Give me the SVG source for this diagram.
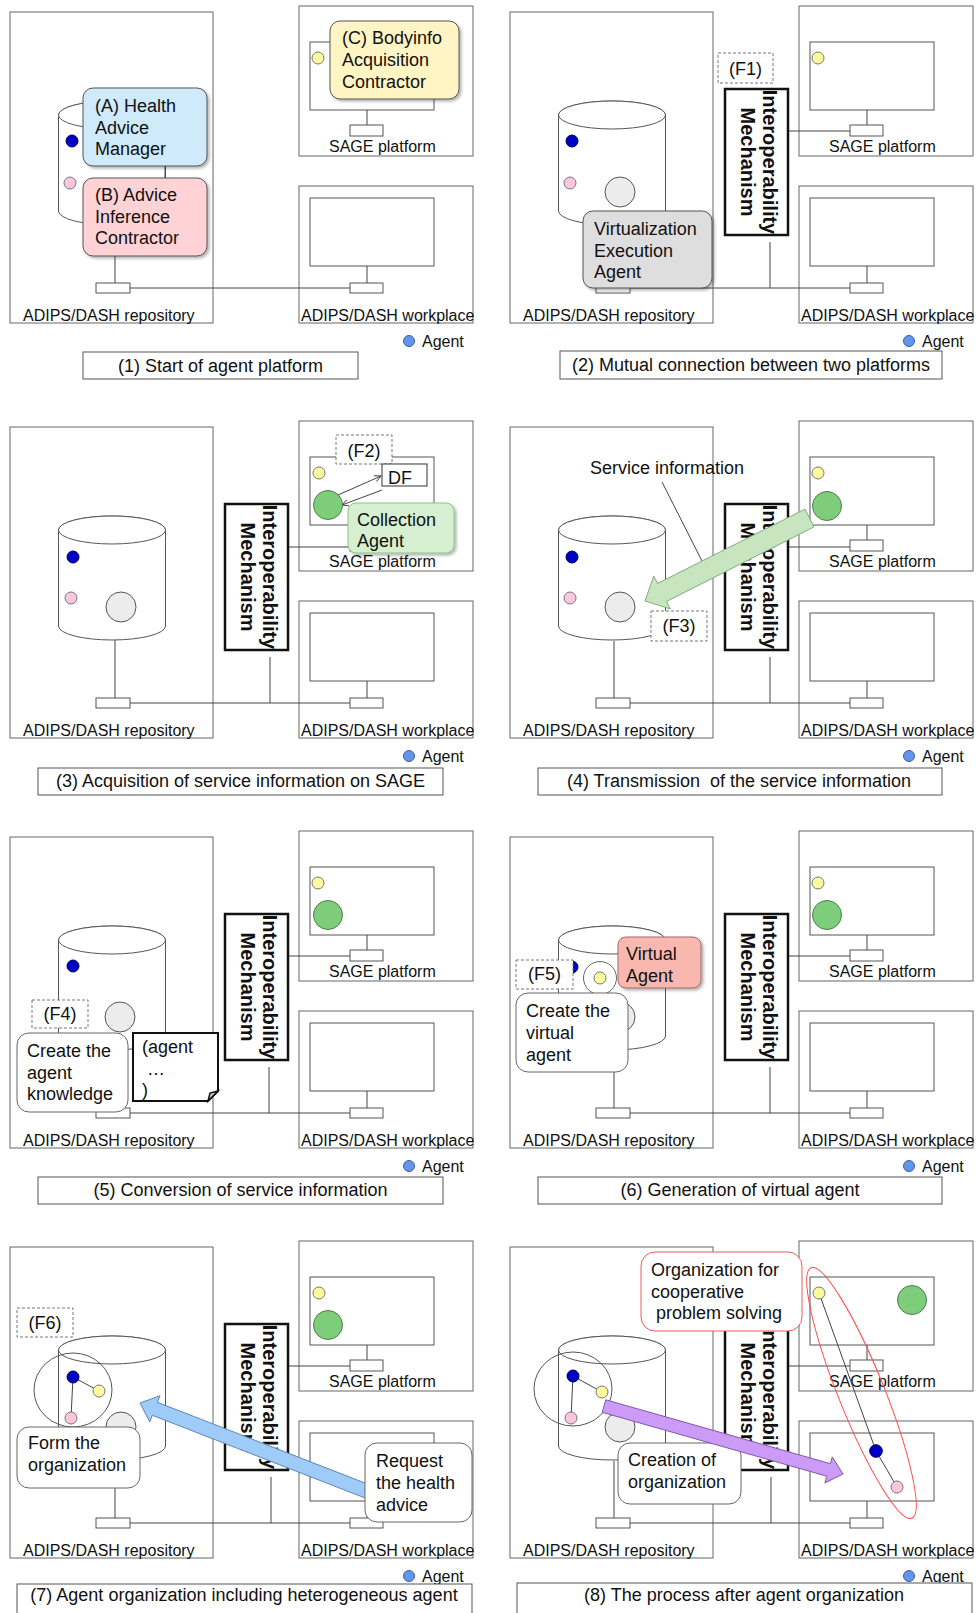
<svg xmlns="http://www.w3.org/2000/svg" xmlns:xlink="http://www.w3.org/1999/xlink" width="979" height="1613" viewBox="0 0 979 1613">
  <style>
    .frame{fill:#fff;stroke:#666;stroke-width:1}
    .mon{fill:#fff;stroke:#555;stroke-width:1}
    .ln{stroke:#444;stroke-width:1;fill:none}
    .lbl{font-family:'Liberation Sans',Arial,sans-serif;font-size:16px;fill:#111}
    .txt{font-family:'Liberation Sans',Arial,sans-serif;font-size:18px;fill:#111}
    .cap{font-family:'Liberation Sans',Arial,sans-serif;font-size:18px;fill:#111;text-anchor:middle;white-space:pre}
    .mid{text-anchor:middle}
    .capbox{fill:#fff;stroke:#555;stroke-width:1}
    .dash{fill:#fff;stroke:#777;stroke-width:1;stroke-dasharray:3 2}
    .ib{fill:#fff;stroke:#111;stroke-width:2.5}
    .it{font-family:'Liberation Sans',Arial,sans-serif;font-size:20px;font-weight:bold;fill:#111;text-anchor:middle}
    .note{fill:#fff;stroke:#666;stroke-width:1}
    .blue{fill:#0000c4;stroke:#00005a}
    .pink{fill:#fcc6dc;stroke:#777}
    .yellow{fill:#fdfa9e;stroke:#777}
    .gray{fill:#ececec;stroke:#555}
    .green{fill:#7dcd7b;stroke:#4d7d4d}
    .sh{filter:url(#shadow)}
  </style>
  <defs>
    <filter id="shadow" x="-10%" y="-10%" width="130%" height="130%">
      <feDropShadow dx="2" dy="2" stdDeviation="1.5" flood-color="#000" flood-opacity="0.3"/>
    </filter>
    <marker id="open-arrow" viewBox="0 0 10 10" refX="9" refY="5" markerWidth="8" markerHeight="8" markerUnits="userSpaceOnUse" orient="auto">
      <path d="M1,1 L9,5 L1,9" fill="none" stroke="#444" stroke-width="1.2"/>
    </marker>
    <!-- shared scaffolding of every panel -->
    <g id="repository">
      <rect class="frame" x="10" y="12" width="203" height="311"/>
      <text class="lbl" x="23" y="321">ADIPS/DASH repository</text>
    </g>
    <g id="sage">
      <rect class="frame" x="299" y="6" width="174" height="150"/>
      <rect class="mon" x="310" y="42" width="124" height="68"/>
      <line class="ln" x1="367" y1="110" x2="367" y2="125"/>
      <rect class="mon" x="350" y="125" width="33" height="11"/>
      <text class="lbl" x="329" y="152">SAGE platform</text>
    </g>
    <g id="workplace">
      <rect class="frame" x="299" y="186" width="174" height="137"/>
      <rect class="mon" x="310" y="198" width="124" height="68"/>
      <line class="ln" x1="367" y1="266" x2="367" y2="283"/>
      <rect class="mon" x="350" y="283" width="33" height="10"/>
      <text class="lbl" x="301" y="321">ADIPS/DASH workplace</text>
    </g>
    <g id="repo-port">
      <rect class="mon" x="96" y="283" width="34" height="10"/>
    </g>
    <g id="cylinder">
      <path d="M58.5,115 A53.5,14 0 0 1 165.5,115 V211 A53.5,14 0 0 1 58.5,211 Z" fill="#fff" stroke="#555"/>
      <ellipse cx="112" cy="115" rx="53.5" ry="14" fill="#fff" stroke="#555"/>
    </g>
    <g id="interop">
      <rect class="ib" x="225" y="89" width="63" height="146"/>
      <g transform="translate(256.5,162) rotate(90)">
        <text class="it" x="0" y="-6">Interoperability</text>
        <text class="it" x="0" y="16">Mechanism</text>
      </g>
    </g>
    <g id="legend">
      <circle cx="409" cy="341" r="5.5" fill="#6495ed" stroke="#3d5fa8"/>
      <text class="lbl" x="422" y="347">Agent</text>
    </g>
  </defs>

  <!-- (1) Start of agent platform -->
  <g id="panel1">
    <use id="p1-repository" href="#repository"/>
    <use id="p1-sage" href="#sage"/>
    <use id="p1-workplace" href="#workplace"/>
    <use id="p1-port" href="#repo-port"/>
    <use id="p1-cylinder" href="#cylinder"/>
    <g id="p1-connectors">
      <line class="ln" x1="130" y1="288" x2="350" y2="288"/>
      <line class="ln" x1="115" y1="256" x2="115" y2="283"/>
      <line class="ln" x1="165" y1="166" x2="165" y2="178"/>
    </g>
    <g id="p1-agents">
      <circle class="blue" cx="72" cy="141" r="6"/>
      <circle class="pink" cx="70" cy="183" r="6"/>
      <circle class="yellow" cx="318" cy="58" r="6"/>
    </g>
    <g id="p1-health-advice-manager">
      <rect class="sh" x="83" y="88" width="124" height="78" rx="10" fill="#cfeafb" stroke="#555"/>
      <text class="txt" x="95" y="112">(A) Health</text>
      <text class="txt" x="95" y="133.5">Advice</text>
      <text class="txt" x="95" y="155">Manager</text>
    </g>
    <g id="p1-advice-inference">
      <rect class="sh" x="83" y="178" width="124" height="78" rx="10" fill="#ffd3d5" stroke="#555"/>
      <text class="txt" x="95" y="201">(B) Advice</text>
      <text class="txt" x="95" y="222.5">Inference</text>
      <text class="txt" x="95" y="244">Contractor</text>
    </g>
    <g id="p1-bodyinfo">
      <rect class="sh" x="330" y="21" width="129" height="78" rx="10" fill="#fff4c4" stroke="#555"/>
      <text class="txt" x="342" y="44">(C) Bodyinfo</text>
      <text class="txt" x="342" y="66">Acquisition</text>
      <text class="txt" x="342" y="88">Contractor</text>
    </g>
    <use id="p1-legend" href="#legend"/>
    <g id="p1-caption">
      <rect class="capbox" x="83" y="352" width="275" height="27"/>
      <text class="cap" x="220.5" y="372">(1) Start of agent platform</text>
    </g>
  </g>

  <!-- (2) Mutual connection between two platforms -->
  <g id="panel2" transform="translate(500,0)">
    <use id="p2-repository" href="#repository"/>
    <use id="p2-sage" href="#sage"/>
    <use id="p2-workplace" href="#workplace"/>
    <use id="p2-port" href="#repo-port"/>
    <use id="p2-cylinder" href="#cylinder"/>
    <g id="p2-connectors">
      <line class="ln" x1="130" y1="288" x2="350" y2="288"/>
      <line class="ln" x1="270" y1="242" x2="270" y2="288"/>
      <line class="ln" x1="288" y1="131" x2="350" y2="131"/>
    </g>
    <use id="p2-interop" href="#interop"/>
    <g id="p2-agents">
      <circle class="blue" cx="72" cy="141" r="6"/>
      <circle class="pink" cx="70" cy="183" r="6"/>
      <circle class="gray" cx="120" cy="192" r="15"/>
      <circle class="yellow" cx="318" cy="58" r="6"/>
    </g>
    <g id="p2-f1">
      <rect class="dash" x="218" y="53" width="55" height="30"/>
      <text class="txt mid" x="245.5" y="75">(F1)</text>
    </g>
    <g id="p2-virtualization">
      <rect class="sh" x="83" y="211" width="129" height="77" rx="10" fill="#dedede" stroke="#555"/>
      <text class="txt" x="94" y="235">Virtualization</text>
      <text class="txt" x="94" y="256.5">Execution</text>
      <text class="txt" x="94" y="278">Agent</text>
    </g>
    <use id="p2-legend" href="#legend"/>
    <g id="p2-caption">
      <rect class="capbox" x="60" y="351" width="382" height="28"/>
      <text class="cap" x="251" y="371">(2) Mutual connection between two platforms</text>
    </g>
  </g>

  <!-- (3) Acquisition of service information on SAGE -->
  <g id="panel3" transform="translate(0,415)">
    <use id="p3-repository" href="#repository"/>
    <use id="p3-sage" href="#sage"/>
    <use id="p3-workplace" href="#workplace"/>
    <use id="p3-port" href="#repo-port"/>
    <use id="p3-cylinder" href="#cylinder"/>
    <g id="p3-connectors">
      <line class="ln" x1="130" y1="288" x2="350" y2="288"/>
      <line class="ln" x1="115" y1="225" x2="115" y2="283"/>
      <line class="ln" x1="270" y1="242" x2="270" y2="288"/>
      <line class="ln" x1="289" y1="132" x2="350" y2="132"/>
      <line class="ln" x1="338" y1="80" x2="381" y2="61" marker-end="url(#open-arrow)"/>
      <line class="ln" x1="382" y1="75" x2="342" y2="90" marker-end="url(#open-arrow)"/>
    </g>
    <use id="p3-interop" href="#interop"/>
    <g id="p3-agents">
      <circle class="blue" cx="73" cy="142" r="6"/>
      <circle class="pink" cx="71" cy="183" r="6"/>
      <circle class="gray" cx="121" cy="192" r="15"/>
      <circle class="yellow" cx="319" cy="58" r="6"/>
    </g>
    <g id="p3-f2">
      <rect class="dash" x="336" y="20" width="56" height="29"/>
      <text class="txt mid" x="364" y="42">(F2)</text>
    </g>
    <g id="p3-df">
      <rect x="382" y="49" width="45" height="22" fill="#fff" stroke="#333"/>
      <text class="txt" x="388" y="69">DF</text>
    </g>
    <circle id="p3-collector" class="green" cx="328" cy="90" r="14.5"/>
    <g id="p3-collection-agent">
      <rect class="sh" x="348" y="88" width="106" height="50" rx="8" fill="#d6efd0" stroke="#8cc384"/>
      <text class="txt" x="357" y="111">Collection</text>
      <text class="txt" x="357" y="132">Agent</text>
    </g>
    <use id="p3-legend" href="#legend"/>
    <g id="p3-caption">
      <rect class="capbox" x="38" y="353" width="405" height="27"/>
      <text class="cap" x="240.5" y="372">(3) Acquisition of service information on SAGE</text>
    </g>
  </g>

  <!-- (4) Transmission of the service information -->
  <g id="panel4" transform="translate(500,415)">
    <use id="p4-repository" href="#repository"/>
    <use id="p4-sage" href="#sage"/>
    <use id="p4-workplace" href="#workplace"/>
    <use id="p4-port" href="#repo-port"/>
    <use id="p4-cylinder" href="#cylinder"/>
    <g id="p4-connectors">
      <line class="ln" x1="130" y1="288" x2="350" y2="288"/>
      <line class="ln" x1="114" y1="226" x2="114" y2="283"/>
      <line class="ln" x1="270" y1="242" x2="270" y2="288"/>
      <line class="ln" x1="288" y1="132" x2="350" y2="132"/>
    </g>
    <use id="p4-interop" href="#interop"/>
    <g id="p4-agents">
      <circle class="blue" cx="72" cy="142" r="6"/>
      <circle class="pink" cx="70" cy="183" r="6"/>
      <circle class="gray" cx="120" cy="192" r="15"/>
      <circle class="yellow" cx="318" cy="58" r="6"/>
      <circle class="green" cx="327" cy="91" r="14.5"/>
    </g>
    <g id="p4-f3">
      <rect class="dash" x="151" y="196" width="56" height="30"/>
      <text class="txt mid" x="179" y="217">(F3)</text>
    </g>
    <g id="p4-service-info">
      <line class="ln" x1="162" y1="67" x2="202" y2="146" stroke="#555"/>
      <text class="txt" x="90" y="59">Service information</text>
    </g>
    <polygon id="p4-transfer" points="305,94.1 157.5,168.5 153.7,161 145,186 170.3,193.9 166.5,186.4 314,111.9" fill="#c7e6c0" stroke="#86a97e" stroke-width="1"/>
    <use id="p4-legend" href="#legend"/>
    <g id="p4-caption">
      <rect class="capbox" x="38" y="353" width="404" height="27"/>
      <text class="cap" x="239" y="372">(4) Transmission  of the service information</text>
    </g>
  </g>

  <!-- (5) Conversion of service information -->
  <g id="panel5" transform="translate(0,825)">
    <use id="p5-repository" href="#repository"/>
    <use id="p5-sage" href="#sage"/>
    <use id="p5-workplace" href="#workplace"/>
    <use id="p5-port" href="#repo-port"/>
    <use id="p5-cylinder" href="#cylinder"/>
    <g id="p5-connectors">
      <line class="ln" x1="130" y1="288" x2="350" y2="288"/>
      <line class="ln" x1="115" y1="225" x2="115" y2="283"/>
      <line class="ln" x1="269" y1="242" x2="269" y2="288"/>
      <line class="ln" x1="288" y1="131" x2="350" y2="131"/>
    </g>
    <use id="p5-interop" href="#interop"/>
    <g id="p5-agents">
      <circle class="blue" cx="73" cy="141" r="6"/>
      <circle class="gray" cx="120" cy="192" r="15"/>
      <circle class="yellow" cx="318" cy="58" r="6"/>
      <circle class="green" cx="328" cy="90" r="14.5"/>
    </g>
    <g id="p5-f4">
      <rect class="dash" x="32" y="175" width="56" height="28"/>
      <text class="txt mid" x="60" y="195">(F4)</text>
    </g>
    <g id="p5-create-knowledge">
      <rect class="note" x="17" y="208" width="111" height="79" rx="12"/>
      <text class="txt" x="27" y="232">Create the</text>
      <text class="txt" x="27" y="253.5">agent</text>
      <text class="txt" x="27" y="275">knowledge</text>
    </g>
    <g id="p5-knowledge-doc">
      <path d="M133,208 H218 V266 L208,276 H133 Z" fill="#fff" stroke="#111" stroke-width="2"/>
      <path d="M208,276 L210,268 L218,266 Z" fill="#ccc" stroke="#111" stroke-width="1.5"/>
      <text class="txt" x="142" y="228">(agent</text>
      <text class="txt" x="147" y="250">…</text>
      <text class="txt" x="142" y="271">)</text>
    </g>
    <use id="p5-legend" href="#legend"/>
    <g id="p5-caption">
      <rect class="capbox" x="38" y="352" width="405" height="27"/>
      <text class="cap" x="240.5" y="371">(5) Conversion of service information</text>
    </g>
  </g>

  <!-- (6) Generation of virtual agent -->
  <g id="panel6" transform="translate(500,825)">
    <use id="p6-repository" href="#repository"/>
    <use id="p6-sage" href="#sage"/>
    <use id="p6-workplace" href="#workplace"/>
    <use id="p6-port" href="#repo-port"/>
    <use id="p6-cylinder" href="#cylinder"/>
    <g id="p6-connectors">
      <line class="ln" x1="130" y1="288" x2="350" y2="288"/>
      <line class="ln" x1="114" y1="247" x2="114" y2="283"/>
      <line class="ln" x1="270" y1="242" x2="270" y2="288"/>
      <line class="ln" x1="288" y1="131" x2="350" y2="131"/>
    </g>
    <use id="p6-interop" href="#interop"/>
    <g id="p6-agents">
      <circle class="blue" cx="72" cy="142" r="6"/>
      <circle class="gray" cx="120" cy="192" r="15"/>
      <circle class="yellow" cx="318" cy="58" r="6"/>
      <circle class="green" cx="327" cy="90" r="14.5"/>
    </g>
    <g id="p6-f5">
      <rect class="dash" x="16" y="135" width="57" height="29"/>
      <text class="txt mid" x="44.5" y="155">(F5)</text>
    </g>
    <g id="p6-new-agent">
      <circle cx="100" cy="153" r="16.5" fill="#fff" stroke="#666"/>
      <circle class="yellow" cx="100" cy="153" r="6"/>
    </g>
    <g id="p6-virtual-agent">
      <rect class="sh" x="118" y="112" width="83" height="51" rx="8" fill="#f8b8b0" stroke="#a06a64"/>
      <text class="txt" x="126" y="135">Virtual</text>
      <text class="txt" x="126" y="157">Agent</text>
    </g>
    <g id="p6-create-virtual">
      <rect class="note" x="16" y="168" width="112" height="79" rx="12"/>
      <text class="txt" x="26" y="192">Create the</text>
      <text class="txt" x="26" y="214">virtual</text>
      <text class="txt" x="26" y="236">agent</text>
    </g>
    <use id="p6-legend" href="#legend"/>
    <g id="p6-caption">
      <rect class="capbox" x="38" y="352" width="404" height="27"/>
      <text class="cap" x="240" y="371">(6) Generation of virtual agent</text>
    </g>
  </g>

  <!-- (7) Agent organization including heterogeneous agent -->
  <g id="panel7" transform="translate(0,1235)">
    <use id="p7-repository" href="#repository"/>
    <use id="p7-sage" href="#sage"/>
    <use id="p7-workplace" href="#workplace"/>
    <use id="p7-port" href="#repo-port"/>
    <use id="p7-cylinder" href="#cylinder"/>
    <g id="p7-connectors">
      <line class="ln" x1="130" y1="288" x2="350" y2="288"/>
      <line class="ln" x1="115" y1="253" x2="115" y2="283"/>
      <line class="ln" x1="271" y1="242" x2="271" y2="288"/>
      <line class="ln" x1="289" y1="131" x2="350" y2="131"/>
      <line class="ln" x1="73" y1="142" x2="99" y2="156"/>
      <line class="ln" x1="73" y1="142" x2="71" y2="183"/>
    </g>
    <use id="p7-interop" href="#interop"/>
    <ellipse id="p7-organization" cx="73" cy="155" rx="39" ry="37" fill="none" stroke="#555"/>
    <g id="p7-agents">
      <circle class="gray" cx="121" cy="192" r="15"/>
      <circle class="blue" cx="73" cy="142" r="6"/>
      <circle class="yellow" cx="99" cy="156" r="6"/>
      <circle class="pink" cx="71" cy="183" r="6"/>
      <circle class="yellow" cx="319" cy="58" r="6"/>
      <circle class="green" cx="328" cy="90" r="14.5"/>
    </g>
    <g id="p7-f6">
      <rect class="dash" x="17" y="73" width="56" height="29"/>
      <text class="txt mid" x="45" y="94">(F6)</text>
    </g>
    <g id="p7-form">
      <rect class="note" x="17" y="192" width="123" height="61" rx="12"/>
      <text class="txt" x="28" y="214">Form the</text>
      <text class="txt" x="28" y="236">organization</text>
    </g>
    <polygon id="p7-request-flow" points="375.5,252.1 157.4,167.3 160,160.8 140,168 149.8,186.9 152.4,180.3 370.5,265.1" fill="#9fcbf9" stroke="#5f86b0" stroke-width="1"/>
    <g id="p7-request">
      <rect class="note" x="365" y="208" width="107" height="79" rx="12"/>
      <text class="txt" x="376" y="232">Request</text>
      <text class="txt" x="376" y="254">the health</text>
      <text class="txt" x="376" y="276">advice</text>
    </g>
    <use id="p7-legend" href="#legend"/>
    <g id="p7-caption">
      <rect class="capbox" x="17" y="349" width="455" height="40"/>
      <text class="cap" x="244" y="366">(7) Agent organization including heterogeneous agent</text>
    </g>
  </g>

  <!-- (8) The process after agent organization -->
  <g id="panel8" transform="translate(500,1235)">
    <use id="p8-repository" href="#repository"/>
    <use id="p8-sage" href="#sage"/>
    <use id="p8-workplace" href="#workplace"/>
    <use id="p8-port" href="#repo-port"/>
    <use id="p8-cylinder" href="#cylinder"/>
    <g id="p8-connectors">
      <line class="ln" x1="130" y1="288" x2="350" y2="288"/>
      <line class="ln" x1="114" y1="226" x2="114" y2="283"/>
      <line class="ln" x1="271" y1="242" x2="271" y2="288"/>
      <line class="ln" x1="288" y1="131" x2="350" y2="131"/>
      <line class="ln" x1="73" y1="141" x2="102" y2="157"/>
      <line class="ln" x1="73" y1="141" x2="71" y2="183"/>
      <line class="ln" x1="319" y1="58" x2="376" y2="216"/>
      <line class="ln" x1="376" y1="216" x2="397" y2="252"/>
    </g>
    <use id="p8-interop" href="#interop"/>
    <ellipse id="p8-organization" cx="73" cy="154" rx="39" ry="37" fill="none" stroke="#555"/>
    <g id="p8-agents">
      <circle class="gray" cx="120" cy="192" r="15"/>
      <circle class="blue" cx="73" cy="141" r="6"/>
      <circle class="yellow" cx="102" cy="157" r="6"/>
      <circle class="pink" cx="71" cy="183" r="6"/>
      <circle class="yellow" cx="319" cy="58" r="6"/>
      <circle class="green" cx="412" cy="65" r="14.5"/>
      <circle class="blue" cx="376" cy="216" r="6.3"/>
      <circle class="pink" cx="397" cy="252" r="6"/>
    </g>
    <g id="p8-cooperative">
      <rect x="141" y="17" width="161" height="79" rx="14" fill="#fff" stroke="#f05a5a"/>
      <text class="txt" x="151" y="41">Organization for</text>
      <text class="txt" x="151" y="63">cooperative</text>
      <text class="txt" x="156" y="84">problem solving</text>
    </g>
    <g id="p8-creation">
      <rect class="note" x="118" y="208" width="123" height="61" rx="12"/>
      <text class="txt" x="128" y="231">Creation of</text>
      <text class="txt" x="128" y="253">organization</text>
    </g>
    <polygon id="p8-deploy-flow" points="105.8,164.8 330.4,228.7 332.3,221.9 343,239 324.9,247.9 326.8,241.2 102.2,177.3" fill="#cc9bf7" stroke="#7d5aa3" stroke-width="1"/>
    <ellipse id="p8-org-span" cx="361.5" cy="158" rx="135" ry="23" transform="rotate(68.1 361.5 158)" fill="none" stroke="#ff4a4a" stroke-width="1"/>
    <use id="p8-legend" href="#legend"/>
    <g id="p8-caption">
      <rect class="capbox" x="17" y="348" width="455" height="40"/>
      <text class="cap" x="244" y="366">(8) The process after agent organization</text>
    </g>
  </g>
</svg>
